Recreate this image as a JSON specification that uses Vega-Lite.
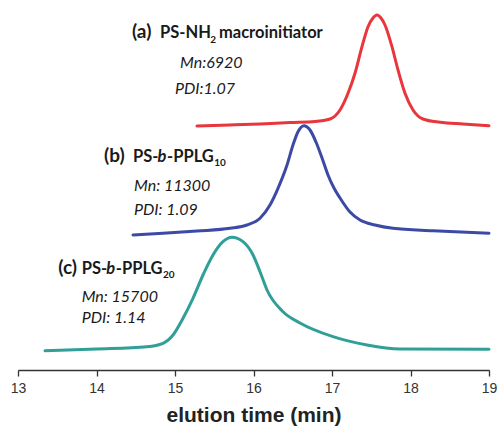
{
  "$schema": "https://vega.github.io/schema/vega-lite/v6.json",
  "autosize": "none",
  "width": 471,
  "height": 370,
  "padding": {"left": 18, "top": 0, "right": 9, "bottom": 59},
  "background": "white",
  "config": {"view": {"stroke": null}},
  "datasets": {
    "curves": [
      {"series": "a", "t": 15.280, "v": 244},
      {"series": "a", "t": 15.701, "v": 245},
      {"series": "a", "t": 16.083, "v": 246},
      {"series": "a", "t": 16.465, "v": 247.5},
      {"series": "a", "t": 16.783, "v": 248.5},
      {"series": "a", "t": 16.975, "v": 251},
      {"series": "a", "t": 17.102, "v": 260},
      {"series": "a", "t": 17.204, "v": 276.7},
      {"series": "a", "t": 17.293, "v": 296.7},
      {"series": "a", "t": 17.382, "v": 323.3},
      {"series": "a", "t": 17.459, "v": 343.3},
      {"series": "a", "t": 17.522, "v": 352},
      {"series": "a", "t": 17.573, "v": 355},
      {"series": "a", "t": 17.624, "v": 352},
      {"series": "a", "t": 17.675, "v": 345},
      {"series": "a", "t": 17.764, "v": 323.3},
      {"series": "a", "t": 17.841, "v": 300},
      {"series": "a", "t": 17.930, "v": 276.7},
      {"series": "a", "t": 18.032, "v": 260},
      {"series": "a", "t": 18.159, "v": 251},
      {"series": "a", "t": 18.376, "v": 247.7},
      {"series": "a", "t": 18.669, "v": 246},
      {"series": "a", "t": 19.0, "v": 244.3},
      {"series": "b", "t": 14.465, "v": 135},
      {"series": "b", "t": 14.847, "v": 136.7},
      {"series": "b", "t": 15.280, "v": 139},
      {"series": "b", "t": 15.701, "v": 141.7},
      {"series": "b", "t": 15.917, "v": 145},
      {"series": "b", "t": 16.083, "v": 151.7},
      {"series": "b", "t": 16.210, "v": 165},
      {"series": "b", "t": 16.312, "v": 181.7},
      {"series": "b", "t": 16.427, "v": 205},
      {"series": "b", "t": 16.503, "v": 225},
      {"series": "b", "t": 16.567, "v": 238.3},
      {"series": "b", "t": 16.643, "v": 244.3},
      {"series": "b", "t": 16.720, "v": 240},
      {"series": "b", "t": 16.796, "v": 228},
      {"series": "b", "t": 16.873, "v": 212},
      {"series": "b", "t": 16.949, "v": 195},
      {"series": "b", "t": 17.025, "v": 182},
      {"series": "b", "t": 17.102, "v": 172},
      {"series": "b", "t": 17.229, "v": 158},
      {"series": "b", "t": 17.357, "v": 150},
      {"series": "b", "t": 17.548, "v": 145},
      {"series": "b", "t": 17.777, "v": 141.7},
      {"series": "b", "t": 18.287, "v": 139.3},
      {"series": "b", "t": 19.0, "v": 136.7},
      {"series": "c", "t": 13.344, "v": 19.3},
      {"series": "c", "t": 14.006, "v": 21},
      {"series": "c", "t": 14.643, "v": 23.3},
      {"series": "c", "t": 14.847, "v": 26.7},
      {"series": "c", "t": 14.975, "v": 35},
      {"series": "c", "t": 15.102, "v": 51.7},
      {"series": "c", "t": 15.229, "v": 71.7},
      {"series": "c", "t": 15.357, "v": 95},
      {"series": "c", "t": 15.484, "v": 115},
      {"series": "c", "t": 15.611, "v": 128.3},
      {"series": "c", "t": 15.726, "v": 132.7},
      {"series": "c", "t": 15.866, "v": 128.3},
      {"series": "c", "t": 15.994, "v": 115},
      {"series": "c", "t": 16.083, "v": 98.3},
      {"series": "c", "t": 16.172, "v": 80},
      {"series": "c", "t": 16.376, "v": 58.3},
      {"series": "c", "t": 16.592, "v": 47},
      {"series": "c", "t": 17.013, "v": 33.3},
      {"series": "c", "t": 17.446, "v": 25},
      {"series": "c", "t": 17.866, "v": 21},
      {"series": "c", "t": 19.0, "v": 20.7}
    ],
    "tags": [
      {"t": 14.452, "v": 331.7, "text": "(a)"},
      {"t": 14.096, "v": 207.7, "text": "(b)"},
      {"t": 13.513, "v": 96, "text": "(c)"}
    ],
    "names": [
      {"t": 14.809, "v": 331.7, "text": "PS-NH"},
      {"t": 15.560, "v": 331.7, "text": "macroinitiator"},
      {"t": 14.465, "v": 207.7, "text": "PS-"},
      {"t": 14.899, "v": 207.7, "text": "-PPLG"},
      {"t": 13.811, "v": 96, "text": "PS-"},
      {"t": 14.246, "v": 96, "text": "-PPLG"}
    ],
    "italicb": [
      {"t": 14.777, "v": 207.7, "text": "b"},
      {"t": 14.124, "v": 96, "text": "b"}
    ],
    "subs": [
      {"t": 15.450, "v": 327.3, "text": "2"},
      {"t": 15.500, "v": 204.3, "text": "10"},
      {"t": 14.848, "v": 92.3, "text": "20"}
    ],
    "info": [
      {"t": 15.064, "v": 301.7, "text": "Mn:6920"},
      {"t": 15.0, "v": 276, "text": "PDI:1.07"},
      {"t": 14.478, "v": 179, "text": "Mn: 11300"},
      {"t": 14.478, "v": 155, "text": "PDI: 1.09"},
      {"t": 13.811, "v": 68.3, "text": "Mn: 15700"},
      {"t": 13.811, "v": 46.7, "text": "PDI: 1.14"}
    ]
  },
  "layer": [
    {
      "data": {"name": "curves"},
      "mark": {"type": "line", "interpolate": "monotone", "strokeWidth": 3, "strokeCap": "round"},
      "encoding": {
        "x": {
          "field": "t", "type": "quantitative",
          "scale": {"domain": [13, 19], "nice": false, "zero": false},
          "axis": {
            "title": "elution time (min)",
            "values": [13, 13.5, 14, 14.5, 15, 15.5, 16, 16.5, 17, 17.5, 18, 18.5, 19],
            "labelExpr": "datum.value % 1 === 0 ? format(datum.value, 'd') : ''",
            "labelFlush": false,
            "labelOverlap": false,
            "labelFont": "Liberation Sans",
            "labelFontSize": 14,
            "labelColor": "#333333",
            "labelPadding": 5,
            "tickSize": {"condition": {"test": "datum.value % 1 !== 0", "value": 3}, "value": 6},
            "tickColor": "#333333",
            "tickWidth": 1.3,
            "domainColor": "#333333",
            "domainWidth": 1.3,
            "grid": false,
            "titleFont": "Liberation Sans",
            "titleFontSize": 21,
            "titleFontWeight": "bold",
            "titleColor": "#222222",
            "titlePadding": 9
          }
        },
        "y": {
          "field": "v", "type": "quantitative",
          "scale": {"domain": [0, 370], "nice": false, "zero": false},
          "axis": null
        },
        "color": {
          "field": "series", "type": "nominal",
          "scale": {"domain": ["a", "b", "c"], "range": ["#e8363c", "#3c4aa6", "#2f9f98"]},
          "legend": null
        }
      }
    },
    {
      "data": {"name": "tags"},
      "mark": {"type": "text", "align": "left", "baseline": "alphabetic", "font": "Lato", "fontWeight": "bold", "fontSize": 19, "color": "#1a1a1a"},
      "encoding": {
        "x": {"field": "t", "type": "quantitative"},
        "y": {"field": "v", "type": "quantitative"},
        "text": {"field": "text"}
      }
    },
    {
      "data": {"name": "names"},
      "mark": {"type": "text", "align": "left", "baseline": "alphabetic", "font": "Lato", "fontWeight": "bold", "fontSize": 16.5, "color": "#1a1a1a"},
      "encoding": {
        "x": {"field": "t", "type": "quantitative"},
        "y": {"field": "v", "type": "quantitative"},
        "text": {"field": "text"}
      }
    },
    {
      "data": {"name": "italicb"},
      "mark": {"type": "text", "align": "left", "baseline": "alphabetic", "font": "Lato", "fontWeight": "bold", "fontStyle": "italic", "fontSize": 16.5, "color": "#1a1a1a"},
      "encoding": {
        "x": {"field": "t", "type": "quantitative"},
        "y": {"field": "v", "type": "quantitative"},
        "text": {"field": "text"}
      }
    },
    {
      "data": {"name": "subs"},
      "mark": {"type": "text", "align": "left", "baseline": "alphabetic", "font": "Lato", "fontWeight": "bold", "fontSize": 10, "color": "#1a1a1a"},
      "encoding": {
        "x": {"field": "t", "type": "quantitative"},
        "y": {"field": "v", "type": "quantitative"},
        "text": {"field": "text"}
      }
    },
    {
      "data": {"name": "info"},
      "mark": {"type": "text", "align": "left", "baseline": "alphabetic", "font": "Lato", "fontStyle": "italic", "fontSize": 16, "color": "#1a1a1a"},
      "encoding": {
        "x": {"field": "t", "type": "quantitative"},
        "y": {"field": "v", "type": "quantitative"},
        "text": {"field": "text"}
      }
    }
  ]
}
